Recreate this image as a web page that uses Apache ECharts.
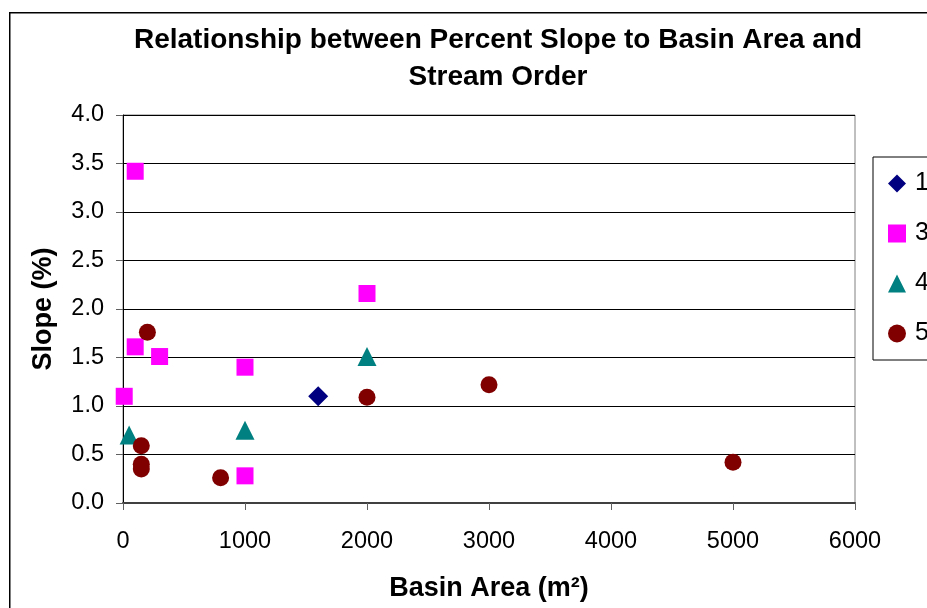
<!DOCTYPE html>
<html>
<head>
<meta charset="utf-8">
<script src="https://cdn.jsdelivr.net/npm/echarts@6/dist/echarts.min.js"></script>
<style>
html,body{margin:0;padding:0;background:#fff;}
#chart{width:927px;height:608px;}
</style>
</head>
<body>
<div id="chart"></div>
<script>
// Data (Basin Area m², Slope %)
const order1 = [[1600, 1.10]];
const order3 = [[100, 3.42], [100, 1.61], [300, 1.51], [10, 1.10], [1000, 1.40], [1000, 0.28], [2000, 2.16]];
const order4 = [[50, 0.70], [1000, 0.75], [2000, 1.51]];
const order5 = [[200, 1.76], [150, 0.59], [150, 0.40], [150, 0.35], [800, 0.26], [2000, 1.09], [3000, 1.22], [5000, 0.42]];
const seriesNames = ['1', '3', '4', '5'];
const xTicks = [0, 1000, 2000, 3000, 4000, 5000, 6000];
const yTicks = [0, 0.5, 1, 1.5, 2, 2.5, 3, 3.5, 4];

const FONT = '"Liberation Sans", Arial, sans-serif';
const chart = echarts.init(document.getElementById('chart'), null, {renderer: 'canvas'});
const option = {
  backgroundColor: '#fff',
  animation: false,
  graphic: [{
    type: 'rect', left: 9, top: 12, z: -10,
    shape: {x: 0, y: 0, width: 1000, height: 700},
    style: {fill: '#fff', stroke: '#000', lineWidth: 1.5}
  }],
  title: {
    text: 'Relationship between Percent Slope to Basin Area and\nStream Order',
    left: 493, textAlign: 'center', top: 17,
    textStyle: {fontFamily: FONT, fontWeight: 'bold', fontSize: 28, color: '#000', lineHeight: 37}
  },
  legend: {
    orient: 'vertical', left: 873, top: 157,
    data: [
      {name: '1', icon: 'diamond'},
      {name: '3', icon: 'rect'},
      {name: '4', icon: 'triangle'},
      {name: '5', icon: 'circle'}
    ],
    itemWidth: 18, itemHeight: 18, itemGap: 25,
    padding: [14, 60, 14, 15],
    borderColor: '#000', borderWidth: 1,
    itemStyle: {opacity: 1},
    textStyle: {fontFamily: FONT, fontSize: 25, color: '#000', padding: [0, 0, 0, 4]}
  },
  grid: {left: 123, right: 72, top: 115, bottom: 105, show: true, borderColor: '#808080', borderWidth: 1},
  xAxis: {
    type: 'value', min: 0, max: 6000, interval: 1000,
    name: 'Basin Area (m²)', nameLocation: 'middle', nameGap: 72,
    nameTextStyle: {fontFamily: FONT, fontWeight: 'bold', fontSize: 27, color: '#000'},
    axisLine: {show: true, lineStyle: {color: '#404040', width: 2}},
    axisTick: {show: true, length: 7, lineStyle: {color: '#606060'}},
    axisLabel: {fontFamily: FONT, fontSize: 23.5, color: '#000', margin: 27,
      formatter: v => xTicks.includes(v) ? String(v) : ''},
    splitLine: {show: false}
  },
  yAxis: {
    type: 'value', min: 0, max: 4, interval: 0.5,
    name: 'Slope (%)', nameLocation: 'middle', nameGap: 66, nameRotate: 90,
    nameTextStyle: {fontFamily: FONT, fontWeight: 'bold', fontSize: 27, color: '#000'},
    axisLine: {show: true, lineStyle: {color: '#000', width: 1}},
    axisTick: {show: true, length: 7, lineStyle: {color: '#606060'}},
    axisLabel: {fontFamily: FONT, fontSize: 23.5, color: '#000', margin: 19,
      formatter: v => yTicks.includes(v) ? v.toFixed(1) : ''},
    splitLine: {show: true, lineStyle: {color: '#000', width: 1}}
  },
  series: [
    {name: seriesNames[0], type: 'scatter', data: order1, symbol: 'diamond', symbolSize: 20, itemStyle: {color: '#000080', opacity: 1}},
    {name: seriesNames[1], type: 'scatter', data: order3, symbol: 'rect', symbolSize: 17, itemStyle: {color: '#FF00FF', opacity: 1}},
    {name: seriesNames[2], type: 'scatter', data: order4, symbol: 'triangle', symbolSize: 19, itemStyle: {color: '#008080', opacity: 1}},
    {name: seriesNames[3], type: 'scatter', data: order5, symbol: 'circle', symbolSize: 17, itemStyle: {color: '#800000', opacity: 1}}
  ]
};
chart.setOption(option);
</script>
</body>
</html>
